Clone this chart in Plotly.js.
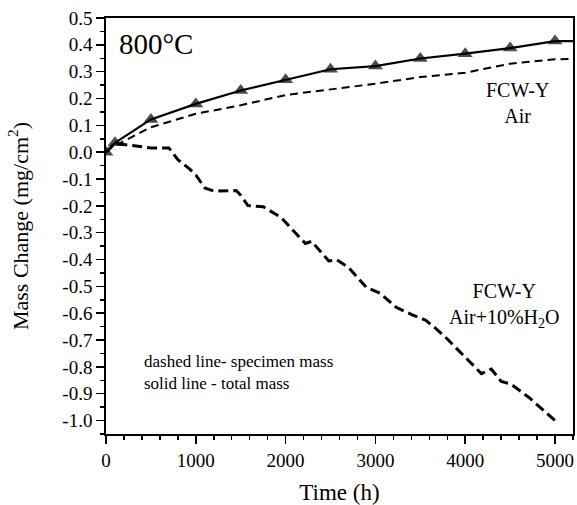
<!DOCTYPE html>
<html>
<head>
<meta charset="utf-8">
<script src="https://cdn.plot.ly/plotly-3.0.1.min.js"></script>
<style>html,body{margin:0;padding:0;background:#fff;}#chart{width:577px;height:505px;}</style>
</head>
<body>
<div id="chart"></div>
<script>
// Total mass, air (solid with triangles); last point is the flat continuation to the frame
const totalX = [0, 100, 500, 1000, 1500, 2000, 2500, 3000, 3500, 4000, 4500, 5000, 5200];
const totalY = [0, 0.035, 0.122, 0.18, 0.23, 0.27, 0.309, 0.321, 0.349, 0.367, 0.388, 0.414, 0.414];
const totalMarked = [true, true, true, true, true, true, true, true, true, true, true, true, false];

// Specimen mass, air (dashed)
const airX = [0, 100, 150, 500, 1000, 1500, 2000, 2500, 3000, 3500, 4000, 4500, 5000, 5200];
const airY = [0, 0.03, 0.033, 0.093, 0.143, 0.175, 0.213, 0.234, 0.255, 0.28, 0.296, 0.33, 0.346, 0.348];

// Specimen mass, air + 10% H2O (dashed)
const wetX = [0, 100, 500, 700, 800, 930, 1000, 1100, 1200, 1450, 1500, 1580, 1750, 1950, 2050, 2120, 2220, 2290, 2350, 2480, 2570, 2700, 2900, 3050, 3230, 3410, 3560, 3680, 3800, 3970, 4180, 4290, 4400, 4510, 4710, 5000];
const wetY = [0, 0.033, 0.016, 0.016, -0.028, -0.062, -0.085, -0.133, -0.145, -0.143, -0.16, -0.199, -0.203, -0.243, -0.28, -0.305, -0.34, -0.332, -0.354, -0.405, -0.401, -0.429, -0.504, -0.525, -0.578, -0.606, -0.626, -0.659, -0.696, -0.752, -0.825, -0.808, -0.854, -0.864, -0.914, -1.0];

const yTickVals = [-1.0, -0.9, -0.8, -0.7, -0.6, -0.5, -0.4, -0.3, -0.2, -0.1, 0.0, 0.1, 0.2, 0.3, 0.4, 0.5];
const yTickText = ["-1.0", "-0.9", "-0.8", "-0.7", "-0.6", "-0.5", "-0.4", "-0.3", "-0.2", "-0.1", "0.0", "0.1", "0.2", "0.3", "0.4", "0.5"];
const xTickVals = [0, 1000, 2000, 3000, 4000, 5000];
const xTickText = ["0", "1000", "2000", "3000", "4000", "5000"];

const serif = "Liberation Serif";

const traces = [
  {
    x: airX, y: airY, mode: "lines", type: "scatter",
    line: {color: "#000", width: 2, dash: "8px,5px"}, hoverinfo: "skip"
  },
  {
    x: wetX, y: wetY, mode: "lines", type: "scatter",
    line: {color: "#000", width: 3, dash: "10px,5px"}, hoverinfo: "skip"
  },
  {
    x: totalX, y: totalY, mode: "lines+markers", type: "scatter",
    line: {color: "#000", width: 2.2},
    marker: {symbol: "triangle-up", color: "#000", size: totalMarked.map(m => m ? 13 : 0),
             line: {color: "#000", width: 0}},
    hoverinfo: "skip"
  }
];

const axisCommon = {
  showline: true, mirror: true, linecolor: "#000", linewidth: 1.8,
  ticks: "outside", tickcolor: "#000", tickwidth: 1.5, ticklen: 8,
  showgrid: false, zeroline: false,
  tickfont: {family: serif, size: 19, color: "#000"}
};

const layout = {
  width: 577, height: 505,
  margin: {l: 106, r: 4, t: 18, b: 71},
  paper_bgcolor: "#fff", plot_bgcolor: "#fff",
  showlegend: false,
  font: {family: serif, color: "#000"},
  xaxis: Object.assign({}, axisCommon, {
    range: [0, 5200], tickmode: "array", tickvals: xTickVals, ticktext: xTickText,
    minor: {dtick: 200, tick0: 0, ticks: "outside", ticklen: 4, tickcolor: "#000", tickwidth: 1.5},
    title: {text: "Time (h)", font: {family: serif, size: 23, color: "#000"}, standoff: 14}
  }),
  yaxis: Object.assign({}, axisCommon, {
    range: [-1.05, 0.5], tickmode: "array", tickvals: yTickVals, ticktext: yTickText,
    minor: {dtick: 0.05, tick0: 0, ticks: "outside", ticklen: 4, tickcolor: "#000", tickwidth: 1.5},
    title: {text: "Mass Change (mg/cm<sup>2</sup>)", font: {family: serif, size: 22, color: "#000"}, standoff: 28}
  }),
  annotations: [
    {x: 126, y: 0.405, xref: "x", yref: "y", xanchor: "left", yanchor: "middle", showarrow: false,
     text: "800°C", font: {family: serif, size: 29, color: "#000"}},
    {x: 4580, y: 0.182, xref: "x", yref: "y", xanchor: "center", yanchor: "middle", showarrow: false,
     align: "center", text: "FCW-Y<br>Air", font: {family: serif, size: 20, color: "#000"}},
    {x: 4436, y: -0.57, xref: "x", yref: "y", xanchor: "center", yanchor: "middle", showarrow: false,
     align: "center", text: "FCW-Y<br>Air+10%H<sub>2</sub>O", font: {family: serif, size: 20, color: "#000"}},
    {x: 400, y: -0.821, xref: "x", yref: "y", xanchor: "left", yanchor: "middle", showarrow: false,
     align: "left", text: "dashed line- specimen mass<br>solid line - total mass", font: {family: serif, size: 17, color: "#000"}}
  ]
};

Plotly.newPlot("chart", traces, layout, {displayModeBar: false, staticPlot: true});
</script>
</body>
</html>
